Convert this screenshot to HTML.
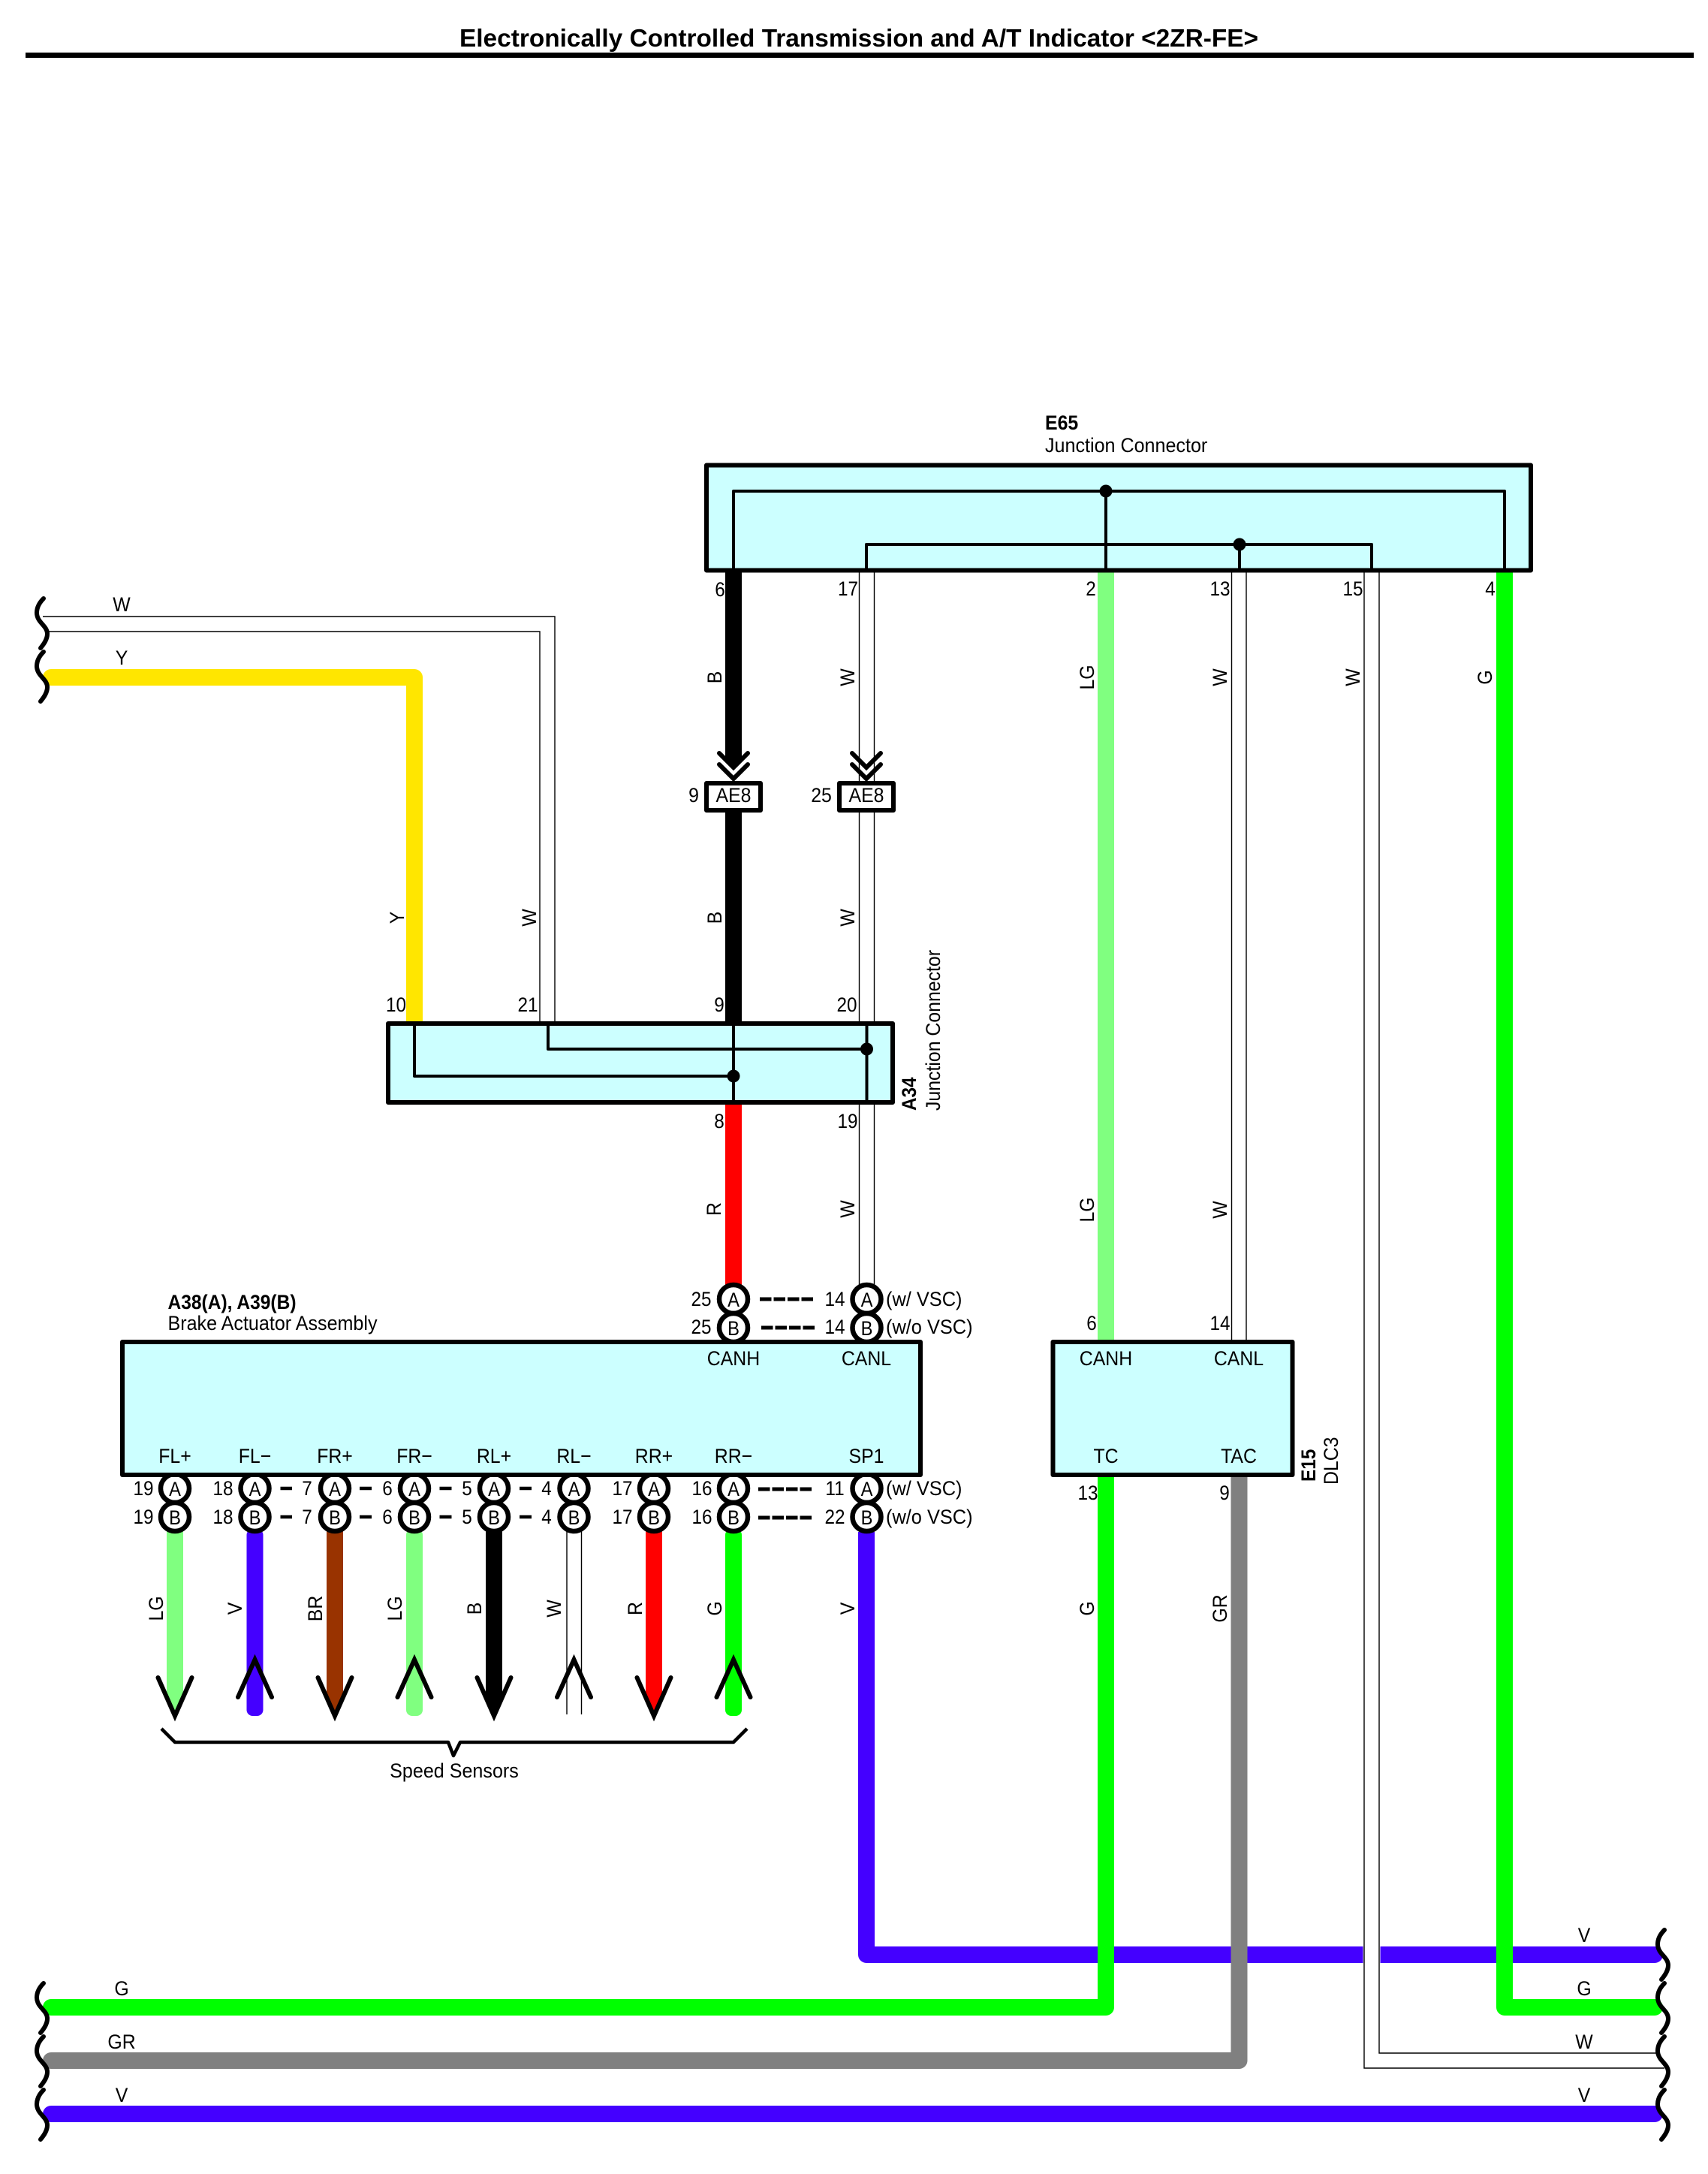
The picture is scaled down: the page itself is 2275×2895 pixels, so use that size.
<!DOCTYPE html>
<html><head><meta charset="utf-8"><title>Electronically Controlled Transmission and A/T Indicator &lt;2ZR-FE&gt;</title>
<style>
html,body{margin:0;padding:0;background:#fff}
svg{display:block}
text{font-family:"Liberation Sans",sans-serif;font-size:27px;fill:#000}
.m{text-anchor:middle}
.b{font-weight:bold}
.w{stroke:#000;stroke-width:1.4;fill:none}
.fat{stroke-width:22;fill:none}
.box{fill:#ccffff;stroke:#000;stroke-width:6;stroke-linejoin:round}
.in{stroke:#000;stroke-width:4;fill:none;stroke-linejoin:round}
.c{fill:#fff;stroke:#000;stroke-width:6.5}
.d{stroke:#000;stroke-width:5;stroke-dasharray:15.5 3;fill:none}
.s{stroke:#000;stroke-width:4.5;fill:none}
.ar{stroke:#000;stroke-width:6;fill:none;stroke-linecap:round;stroke-linejoin:miter}
.sq{stroke:#000;stroke-width:6;fill:none;stroke-linecap:round}
</style></head><body>
<svg xmlns="http://www.w3.org/2000/svg" width="2275" height="2895" viewBox="0 0 2275 2895">
<rect width="2275" height="2895" fill="#fff"/>
<rect x="34" y="70" width="2222" height="7" fill="#000"/>
<text class="b" x="612" y="62" style="font-size:33px" textLength="1064" lengthAdjust="spacingAndGlyphs">Electronically Controlled Transmission and A/T Indicator &lt;2ZR-FE&gt;</text>

<!-- top left wires -->
<path class="w" d="M57 821H739V1362M65 841H719V1362"/>
<path class="fat" stroke="#ffe600" stroke-linecap="round" stroke-linejoin="round" d="M68 902H552V1362"/>

<!-- bottom wires -->
<path class="fat" stroke="#4400ff" stroke-linecap="round" d="M68 2815H2204"/>
<path class="fat" stroke="#4400ff" stroke-linejoin="round" d="M1154 2040V2603H2204"/>
<path class="fat" stroke="#4400ff" stroke-linecap="round" d="M2200 2603H2204"/>
<rect x="1815.500" y="2590" width="23" height="26" fill="#fff"/>
<path class="fat" stroke="#00ff00" stroke-linejoin="round" stroke-linecap="round" d="M68 2673H1473V1965"/>
<path class="fat" stroke="#808080" stroke-linejoin="round" stroke-linecap="round" d="M68 2744H1650.5V1965"/>
<path class="fat" stroke="#00ff00" stroke-linejoin="round" stroke-linecap="round" d="M2004 760V2673H2204"/>
<path class="w" d="M1837 760V2734H2208M1817 760V2754H2217"/>

<!-- E65 wires -->
<path class="fat" stroke="#000" d="M977 760V1018M977 1080V1362"/>
<path class="fat" stroke="#ff0000" d="M977 1470V1712"/>
<path class="w" d="M1144.5 760V1042M1164.5 760V1042M1144.5 1080V1362M1164.5 1080V1362M1144.5 1470V1712M1164.5 1470V1712"/>
<path class="fat" stroke="#80ff80" d="M1473 760V1786"/>
<path class="w" d="M1640.5 760V1786M1660 760V1786"/>

<!-- chevrons -->
<path d="M958 1010L977 1030L996 1010" fill="none" stroke="#fff" stroke-width="14"/>
<path class="ar" d="M958 1003L977 1022L996 1003M958 1018L977 1037L996 1018"/>
<path class="ar" d="M1135 1003L1154 1022L1173 1003M1135 1018L1154 1037L1173 1018"/>

<!-- E65 -->
<rect class="box" x="941" y="619.5" width="1098" height="140"/>
<path class="in" d="M977 760V654H2004V760M1473 654V760M1154 760V725H1827V760M1651 725V760"/>
<circle cx="1473" cy="654" r="8.5"/><circle cx="1651" cy="725" r="8.5"/>
<text class="b" transform="matrix(.92 0 0 1 1392 572)">E65</text>
<text transform="matrix(.93 0 0 1 1392 602)">Junction Connector</text>

<!-- AE8 -->
<rect x="941" y="1043" width="72" height="36" fill="#fff" stroke="#000" stroke-width="6" stroke-linejoin="round"/>
<rect x="1118" y="1043" width="72" height="36" fill="#fff" stroke="#000" stroke-width="6" stroke-linejoin="round"/>
<text class="m" transform="matrix(.92 0 0 1 977 1068)">AE8</text>
<text class="m" transform="matrix(.92 0 0 1 1154 1068)">AE8</text>
<text class="m" transform="matrix(.92 0 0 1 924 1068)">9</text>
<text class="m" transform="matrix(.92 0 0 1 1094 1068)">25</text>

<!-- A34 -->
<rect class="box" x="517" y="1363" width="672" height="105"/>
<path class="in" d="M552 1363V1433H977M730 1363V1397H1154M977 1363V1468M1154.5 1363V1468"/>
<circle cx="1154.5" cy="1397" r="8.5"/><circle cx="977" cy="1433" r="8.5"/>
<text class="b" transform="matrix(0 -.9 1 0 1220 1479)">A34</text>
<text transform="matrix(0 -.92 1 0 1252 1479)">Junction Connector</text>

<!-- upper circles -->
<circle class="c" cx="977" cy="1730" r="19"/><circle class="c" cx="977" cy="1768" r="19"/>
<circle class="c" cx="1154.5" cy="1730" r="19"/><circle class="c" cx="1154.5" cy="1768" r="19"/>
<path class="d" d="M1012 1730H1083M1014 1768H1085M1010 1983H1084M1010 2021H1084"/>

<!-- wires below actuator -->
<path fill="#80ff80" d="M222 2036H244V2260L233 2285L222 2260Z"/>
<rect x="328.5" y="2036" width="22" height="249" rx="8" fill="#4400ff"/>
<path fill="#993300" d="M435 2036H457V2260L446 2285L435 2260Z"/>
<rect x="541" y="2036" width="22" height="249" rx="8" fill="#80ff80"/>
<path fill="#000" d="M647 2036H669V2260L658 2285L647 2260Z"/>
<path class="w" d="M755 2036V2283M774.5 2036V2283"/>
<path fill="#ff0000" d="M860 2036H882V2260L871 2285L860 2260Z"/>
<rect x="966" y="2036" width="22" height="249" rx="8" fill="#00ff00"/>

<path class="ar" d="M210.500 2234L233 2285L255.500 2234M423.500 2234L446 2285L468.500 2234M635.500 2234L658 2285L680.500 2234M848.500 2234L871 2285L893.500 2234"/>
<path class="ar" d="M317 2260L339.500 2210L362 2260M529.500 2260L552 2210L574.500 2260M742 2260L764.500 2210L787 2260M954.500 2260L977 2210L999.500 2260"/>
<path class="s" stroke-linejoin="round" d="M215 2302L233 2320H597L604 2338L613 2320H977L995 2302"/>
<text class="m" transform="matrix(.93 0 0 1 605 2367)">Speed Sensors</text>

<!-- lower circles -->
<g>
<circle class="c" cx="233" cy="1982" r="19"/><circle class="c" cx="233" cy="2020" r="19"/>
<circle class="c" cx="339.500" cy="1982" r="19"/><circle class="c" cx="339.500" cy="2020" r="19"/>
<circle class="c" cx="446" cy="1982" r="19"/><circle class="c" cx="446" cy="2020" r="19"/>
<circle class="c" cx="552" cy="1982" r="19"/><circle class="c" cx="552" cy="2020" r="19"/>
<circle class="c" cx="658" cy="1982" r="19"/><circle class="c" cx="658" cy="2020" r="19"/>
<circle class="c" cx="764.500" cy="1982" r="19"/><circle class="c" cx="764.500" cy="2020" r="19"/>
<circle class="c" cx="871" cy="1982" r="19"/><circle class="c" cx="871" cy="2020" r="19"/>
<circle class="c" cx="977" cy="1982" r="19"/><circle class="c" cx="977" cy="2020" r="19"/>
<circle class="c" cx="1154.500" cy="1982" r="19"/><circle class="c" cx="1154.500" cy="2020" r="19"/>
</g>
<path class="s" d="M373.500 1982H389M373.500 2020H389M479 1982H495M479 2020H495M585.500 1982H601.500M585.500 2020H601.500M692 1982H708M692 2020H708"/>

<!-- A38 box -->
<rect class="box" x="163" y="1787" width="1063" height="177"/>
<text class="b" transform="matrix(.91 0 0 1 223.500 1743)">A38(A), A39(B)</text>
<text transform="matrix(.93 0 0 1 223.500 1771)">Brake Actuator Assembly</text>
<text class="m" transform="matrix(.92 0 0 1 977 1818)">CANH</text>
<text class="m" transform="matrix(.92 0 0 1 1154 1818)">CANL</text>
<text class="m" transform="matrix(.92 0 0 1 233 1948)">FL+</text>
<text class="m" transform="matrix(.92 0 0 1 339.500 1948)">FL−</text>
<text class="m" transform="matrix(.92 0 0 1 446 1948)">FR+</text>
<text class="m" transform="matrix(.92 0 0 1 552 1948)">FR−</text>
<text class="m" transform="matrix(.92 0 0 1 658 1948)">RL+</text>
<text class="m" transform="matrix(.92 0 0 1 764.500 1948)">RL−</text>
<text class="m" transform="matrix(.92 0 0 1 871 1948)">RR+</text>
<text class="m" transform="matrix(.92 0 0 1 977 1948)">RR−</text>
<text class="m" transform="matrix(.92 0 0 1 1154 1948)">SP1</text>

<!-- E15 -->
<rect class="box" x="1402.500" y="1787" width="319" height="177"/>
<text class="m" transform="matrix(.92 0 0 1 1473 1818)">CANH</text>
<text class="m" transform="matrix(.92 0 0 1 1650 1818)">CANL</text>
<text class="m" transform="matrix(.92 0 0 1 1473 1948)">TC</text>
<text class="m" transform="matrix(.92 0 0 1 1650 1948)">TAC</text>
<text class="b" transform="matrix(0 -.9 1 0 1752 1973)">E15</text>
<text transform="matrix(0 -.92 1 0 1782 1977)">DLC3</text>

<!-- circle letters -->
<g>
<text class="m" transform="matrix(.88 0 0 1 977 1740)">A</text><text class="m" transform="matrix(.88 0 0 1 977 1778)">B</text>
<text class="m" transform="matrix(.88 0 0 1 1154.500 1740)">A</text><text class="m" transform="matrix(.88 0 0 1 1154.500 1778)">B</text>
<text class="m" transform="matrix(.88 0 0 1 233 1992)">A</text><text class="m" transform="matrix(.88 0 0 1 233 2030)">B</text>
<text class="m" transform="matrix(.88 0 0 1 339.500 1992)">A</text><text class="m" transform="matrix(.88 0 0 1 339.500 2030)">B</text>
<text class="m" transform="matrix(.88 0 0 1 446 1992)">A</text><text class="m" transform="matrix(.88 0 0 1 446 2030)">B</text>
<text class="m" transform="matrix(.88 0 0 1 552 1992)">A</text><text class="m" transform="matrix(.88 0 0 1 552 2030)">B</text>
<text class="m" transform="matrix(.88 0 0 1 658 1992)">A</text><text class="m" transform="matrix(.88 0 0 1 658 2030)">B</text>
<text class="m" transform="matrix(.88 0 0 1 764.500 1992)">A</text><text class="m" transform="matrix(.88 0 0 1 764.500 2030)">B</text>
<text class="m" transform="matrix(.88 0 0 1 871 1992)">A</text><text class="m" transform="matrix(.88 0 0 1 871 2030)">B</text>
<text class="m" transform="matrix(.88 0 0 1 977 1992)">A</text><text class="m" transform="matrix(.88 0 0 1 977 2030)">B</text>
<text class="m" transform="matrix(.88 0 0 1 1154.500 1992)">A</text><text class="m" transform="matrix(.88 0 0 1 1154.500 2030)">B</text>
</g>

<!-- pin numbers -->
<g>
<text class="m" transform="matrix(.9 0 0 1 959 794)">6</text>
<text class="m" transform="matrix(.9 0 0 1 1129.500 793)">17</text>
<text class="m" transform="matrix(.9 0 0 1 1453 793)">2</text>
<text class="m" transform="matrix(.9 0 0 1 1625 793)">13</text>
<text class="m" transform="matrix(.9 0 0 1 1802 793)">15</text>
<text class="m" transform="matrix(.9 0 0 1 1985 793)">4</text>
<text class="m" transform="matrix(.9 0 0 1 527.500 1347)">10</text>
<text class="m" transform="matrix(.9 0 0 1 703 1347)">21</text>
<text class="m" transform="matrix(.9 0 0 1 958 1347)">9</text>
<text class="m" transform="matrix(.9 0 0 1 1128 1347)">20</text>
<text class="m" transform="matrix(.9 0 0 1 958 1502)">8</text>
<text class="m" transform="matrix(.9 0 0 1 1129 1502)">19</text>
<text class="m" transform="matrix(.9 0 0 1 934 1739)">25</text>
<text class="m" transform="matrix(.9 0 0 1 934 1776)">25</text>
<text class="m" transform="matrix(.9 0 0 1 1112 1739)">14</text>
<text class="m" transform="matrix(.9 0 0 1 1112 1776)">14</text>
<text transform="matrix(.94 0 0 1 1180 1739)">(w/ VSC)</text>
<text transform="matrix(.94 0 0 1 1180 1776)">(w/o VSC)</text>
<text transform="matrix(.94 0 0 1 1180 1991)">(w/ VSC)</text>
<text transform="matrix(.94 0 0 1 1180 2029)">(w/o VSC)</text>
<text class="m" transform="matrix(.9 0 0 1 191 1991)">19</text><text class="m" transform="matrix(.9 0 0 1 191 2029)">19</text>
<text class="m" transform="matrix(.9 0 0 1 297 1991)">18</text><text class="m" transform="matrix(.9 0 0 1 297 2029)">18</text>
<text class="m" transform="matrix(.9 0 0 1 409 1991)">7</text><text class="m" transform="matrix(.9 0 0 1 409 2029)">7</text>
<text class="m" transform="matrix(.9 0 0 1 516 1991)">6</text><text class="m" transform="matrix(.9 0 0 1 516 2029)">6</text>
<text class="m" transform="matrix(.9 0 0 1 622 1991)">5</text><text class="m" transform="matrix(.9 0 0 1 622 2029)">5</text>
<text class="m" transform="matrix(.9 0 0 1 728 1991)">4</text><text class="m" transform="matrix(.9 0 0 1 728 2029)">4</text>
<text class="m" transform="matrix(.9 0 0 1 829 1991)">17</text><text class="m" transform="matrix(.9 0 0 1 829 2029)">17</text>
<text class="m" transform="matrix(.9 0 0 1 935 1991)">16</text><text class="m" transform="matrix(.9 0 0 1 935 2029)">16</text>
<text class="m" transform="matrix(.9 0 0 1 1112 1991)">11</text><text class="m" transform="matrix(.9 0 0 1 1112 2029)">22</text>
<text class="m" transform="matrix(.9 0 0 1 1454 1771)">6</text>
<text class="m" transform="matrix(.9 0 0 1 1625 1771)">14</text>
<text class="m" transform="matrix(.9 0 0 1 1449 1997)">13</text>
<text class="m" transform="matrix(.9 0 0 1 1631 1997)">9</text>
</g>

<!-- wire colour labels, rotated -->
<g>
<text class="m" transform="matrix(0 -.92 1 0 961 902)">B</text>
<text class="m" transform="matrix(0 -.92 1 0 1138 902)">W</text>
<text class="m" transform="matrix(0 -.92 1 0 1457 902)">LG</text>
<text class="m" transform="matrix(0 -.92 1 0 1634 902)">W</text>
<text class="m" transform="matrix(0 -.92 1 0 1811 902)">W</text>
<text class="m" transform="matrix(0 -.92 1 0 1987 902)">G</text>
<text class="m" transform="matrix(0 -.92 1 0 538 1222)">Y</text>
<text class="m" transform="matrix(0 -.92 1 0 714 1222)">W</text>
<text class="m" transform="matrix(0 -.92 1 0 961 1222)">B</text>
<text class="m" transform="matrix(0 -.92 1 0 1138 1222)">W</text>
<text class="m" transform="matrix(0 -.92 1 0 960 1610)">R</text>
<text class="m" transform="matrix(0 -.92 1 0 1138 1610)">W</text>
<text class="m" transform="matrix(0 -.92 1 0 1457 1611)">LG</text>
<text class="m" transform="matrix(0 -.92 1 0 1634 1611)">W</text>
<text class="m" transform="matrix(0 -.92 1 0 217 2142)">LG</text>
<text class="m" transform="matrix(0 -.92 1 0 322 2142)">V</text>
<text class="m" transform="matrix(0 -.92 1 0 429 2142)">BR</text>
<text class="m" transform="matrix(0 -.92 1 0 535 2142)">LG</text>
<text class="m" transform="matrix(0 -.92 1 0 641 2142)">B</text>
<text class="m" transform="matrix(0 -.92 1 0 747 2142)">W</text>
<text class="m" transform="matrix(0 -.92 1 0 855 2142)">R</text>
<text class="m" transform="matrix(0 -.92 1 0 961 2142)">G</text>
<text class="m" transform="matrix(0 -.92 1 0 1138 2142)">V</text>
<text class="m" transform="matrix(0 -.92 1 0 1457 2142)">G</text>
<text class="m" transform="matrix(0 -.92 1 0 1634 2142)">GR</text>
</g>

<!-- horizontal wire labels -->
<g>
<text class="m" transform="matrix(.92 0 0 1 162 814)">W</text>
<text class="m" transform="matrix(.92 0 0 1 162 885)">Y</text>
<text class="m" transform="matrix(.92 0 0 1 162 2657)">G</text>
<text class="m" transform="matrix(.92 0 0 1 162 2728)">GR</text>
<text class="m" transform="matrix(.92 0 0 1 162 2799)">V</text>
<text class="m" transform="matrix(.92 0 0 1 2110 2586)">V</text>
<text class="m" transform="matrix(.92 0 0 1 2110 2657)">G</text>
<text class="m" transform="matrix(.92 0 0 1 2110 2728)">W</text>
<text class="m" transform="matrix(.92 0 0 1 2110 2799)">V</text>
</g>

<!-- squiggles -->
<g class="sq">
<path d="M58 797C52 803 49 809 49 816C49 829 63 833 63 844C63 851 59 857 54 863"/>
<path d="M58 868C52 874 49 880 49 887C49 900 63 904 63 915C63 922 59 928 54 934"/>
<path d="M58 2641C52 2647 49 2653 49 2660C49 2673 63 2677 63 2688C63 2695 59 2701 54 2707"/>
<path d="M58 2712C52 2718 49 2724 49 2731C49 2744 63 2748 63 2759C63 2766 59 2772 54 2778"/>
<path d="M58 2783C52 2789 49 2795 49 2802C49 2815 63 2819 63 2830C63 2837 59 2843 54 2849"/>
<path d="M2217 2570C2211 2576 2208 2582 2208 2589C2208 2602 2222 2606 2222 2617C2222 2624 2218 2630 2213 2636"/>
<path d="M2217 2641C2211 2647 2208 2653 2208 2660C2208 2673 2222 2677 2222 2688C2222 2695 2218 2701 2213 2707"/>
<path d="M2217 2712C2211 2718 2208 2724 2208 2731C2208 2744 2222 2748 2222 2759C2222 2766 2218 2772 2213 2778"/>
<path d="M2217 2783C2211 2789 2208 2795 2208 2802C2208 2815 2222 2819 2222 2830C2222 2837 2218 2843 2213 2849"/>
</g>
</svg>
</body></html>
